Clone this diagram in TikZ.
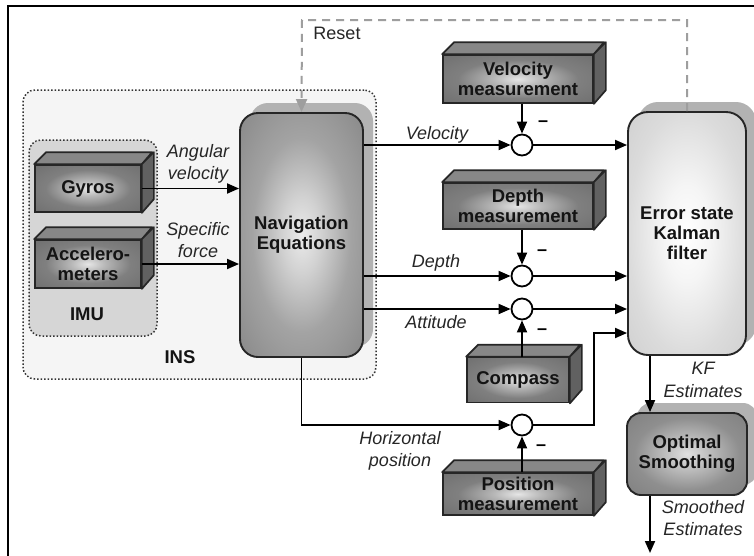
\documentclass[tikz,border=0pt]{standalone}
\usepackage{fontspec}
\setmainfont{Liberation Sans}
\usetikzlibrary{arrows.meta,calc,shadows}

\pgfdeclareradialshading{navshade}{\pgfpoint{0bp}{0bp}}{color(0bp)=(black!8); color(8bp)=(black!18); color(20bp)=(black!36); color(35bp)=(black!46); color(50bp)=(black!50)}
\pgfdeclareradialshading{kfshade}{\pgfpoint{0bp}{0bp}}{color(0bp)=(white); color(10bp)=(black!4); color(25bp)=(black!14); color(50bp)=(black!24)}
\pgfdeclareradialshading{optshade}{\pgfpoint{0bp}{0bp}}{color(0bp)=(black!12); color(8bp)=(black!24); color(22bp)=(black!44); color(50bp)=(black!56)}
\pgfdeclareradialshading{cubeshade}{\pgfpoint{0bp}{0bp}}{color(0bp)=(black!10); color(8bp)=(black!28); color(20bp)=(black!50); color(50bp)=(black!62)}

\tikzset{
 conn/.style={line width=1.8pt, -{Triangle[length=12pt,width=10pt]}},
 boxtext/.style={font=\fontsize{18.5}{20}\selectfont\bfseries, align=center, text=black!92},
 lbl/.style={font=\fontsize{18}{22.5}\selectfont\itshape, align=center, text=black!85, inner sep=0pt},
 front/.style={draw=black!85, line width=1.7pt, shading=cubeshade, boxtext, inner sep=0pt},
 topface/.style={draw=black!85, line width=1.7pt, fill=black!47, line join=round},
 sideface/.style={draw=black!85, line width=1.7pt, fill=black!62, line join=round},
 sumnode/.style={circle, draw=black, line width=1.8pt, fill=white, minimum size=21pt, inner sep=0pt},
 minus/.style={font=\fontsize{18}{20}\selectfont\bfseries, inner sep=0pt},
 shadowed/.style={drop shadow={shadow xshift=10pt, shadow yshift=10pt, fill=black!30, opacity=1}},
 roundbox/.style={draw=black!85, line width=1.9pt, boxtext, inner sep=0pt, shadowed},
 reset/.style={draw=black!38, line width=2pt, dash pattern=on 8pt off 6pt, -{Triangle[length=13pt,width=11pt]}},
 groupbox/.style={draw=black!80, line width=1.5pt, dotted, rounded corners=12pt, inner sep=0pt},
}

\newcommand{\cuboid}[6]{%
 \node[front, minimum width=#4pt, minimum height=#5pt] (#1) at (#2,#3) {#6};
 \draw[topface] (#1.north west) -- ++(12,-12) -- ++(#4,0) -- (#1.north east) -- cycle;
 \draw[sideface] (#1.north east) -- ++(12,-12) -- ++(0,#5) -- (#1.south east) -- cycle;
}

\begin{document}
\begin{tikzpicture}[x=1pt,y=-1pt]
\useasboundingbox (0,0) rectangle (754,555);
\clip (0,0) rectangle (754,555);
\fill[white] (0,0) rectangle (754,555);
\draw[line width=1.5pt] (8,560) -- (8,6) -- (760,6);

% group boxes
\node[groupbox, fill=black!4, minimum width=353pt, minimum height=289pt] (ins) at (199.5,234.5) {};
\node[groupbox, fill=black!16, minimum width=128pt, minimum height=196pt] (imu) at (93,238) {};
\node[boxtext] (imulbl) at (87,314) {IMU};
\node[boxtext] (inslbl) at (180,357) {INS};

% sensor cuboids
\cuboid{gyros}{88}{188.5}{106}{47}{Gyros}
\cuboid{accel}{88}{264}{106}{48}{Accelero-\\meters}
\cuboid{vm}{518}{79}{150}{48}{Velocity\\measurement}
\cuboid{dm}{518}{206}{150}{46}{Depth\\measurement}
\cuboid{comp}{518}{380}{102}{45}{Compass}
\cuboid{pm}{518}{494}{150}{42}{Position\\measurement}

% main blocks
\node[roundbox, rounded corners=18pt, shading=navshade,
      minimum width=123pt, minimum height=244pt] (nav) at (301.5,235) {Navigation\\Equations};
\node[roundbox, rounded corners=20pt, shading=kfshade,
      minimum width=118pt, minimum height=243pt] (kf) at (687,233.5) {Error state\\Kalman\\filter};
\node[roundbox, rounded corners=14pt, shading=optshade,
      minimum width=120pt, minimum height=82pt] (opt) at (687,454) {Optimal\\Smoothing};

% summing junctions
\node[sumnode] (vc) at (522,145) {};
\node[sumnode] (dc) at (522,276) {};
\node[sumnode] (ac) at (522,309) {};
\node[sumnode] (hc) at (522,425) {};

% IMU to navigation
\draw[conn] (gyros.east) -- (nav.west |- gyros.east);
\draw[conn] (accel.east) -- (nav.west |- accel.east);
\node[lbl] (angl) at (198,164) {Angular\\velocity};
\node[lbl] (sfl) at (198,240) {Specific\\force};

% navigation outputs to junctions
\draw[conn] (nav.east |- vc) -- (vc.west);
\draw[conn] (nav.east |- dc) -- (dc.west);
\draw[conn] (nav.east |- ac) -- (ac.west);
\draw[conn] (nav.south) |- (hc.west);
\node[lbl] (vell) at (437,135) {Velocity};
\node[lbl] (depl) at (436,263) {Depth};
\node[lbl] (attl) at (436,322) {Attitude};
\node[lbl] (hpl) at (400,451) {Horizontal\\position};

% measurements into junctions
\draw[conn] (vc |- vm.south) -- (vc.north);
\draw[conn] (dc |- dm.south) -- (dc.north);
\draw[conn] (ac |- comp.north) -- (ac.south);
\draw[conn] (hc |- pm.north) -- (hc.south);
\node[minus] (m1) at (543,124) {–};
\node[minus] (m2) at (542,253) {–};
\node[minus] (m3) at (542,332) {–};
\node[minus] (m4) at (541,448) {–};

% junctions to Kalman filter
\draw[conn] (vc.east) -- (kf.west |- vc);
\draw[conn] (dc.east) -- (kf.west |- dc);
\draw[conn] (ac.east) -- (kf.west |- ac);
\coordinate (hbend) at (594,333);
\draw[conn] (hc.east) -| (hbend) -- (kf.west |- hbend);

% Kalman to smoother and output
\draw[conn] ([xshift=-37pt]kf.south) -- ([xshift=-37pt]opt.north);
\coordinate (out) at (650,553);
\draw[conn] ([xshift=-37pt]opt.south) -- (out);
\node[lbl] (kfl) at (703,380) {KF\\Estimates};
\node[lbl] (sml) at (703,518) {Smoothed\\Estimates};

% reset
\coordinate (rtop) at (302,20);
\draw[reset] (kf.north) |- (rtop) -- (nav.north);
\node[font=\fontsize{18}{20}\selectfont, text=black!85] (resetl) at (337,33) {Reset};
\end{tikzpicture}
\end{document}
